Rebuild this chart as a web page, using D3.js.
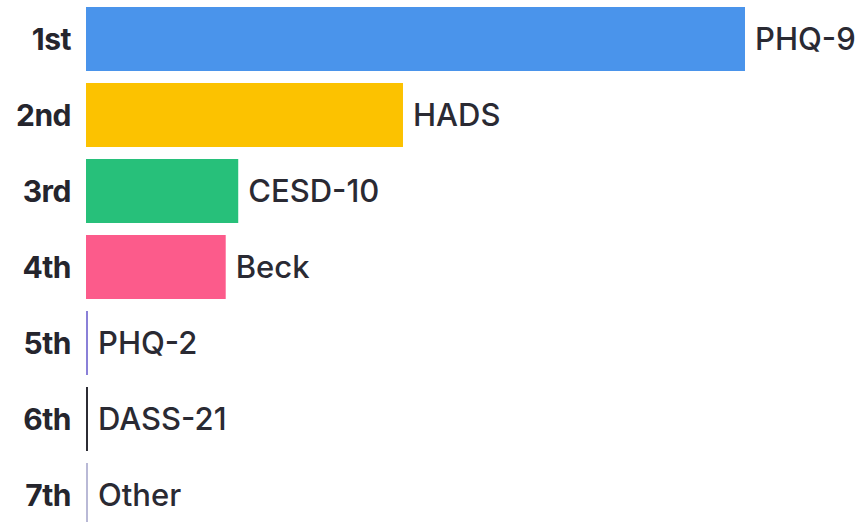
<!DOCTYPE html>
<html>
<head>
<style>
body { margin: 0; background: #fff; }
.rank { font-family: Inter, "Noto Sans", sans-serif; font-weight: 700; font-size: 30px; fill: #25252d; letter-spacing: -0.5px; }
.lbl { font-family: Inter, "Noto Sans", sans-serif; font-weight: 500; font-size: 31px; fill: #2a2a33; }
</style>
<title>ranking</title>
<script src="https://cdn.jsdelivr.net/npm/d3@7"></script>
</head>
<body>
<svg width="864" height="522"></svg>
<script>

var ranks = ["1st", "2nd", "3rd", "4th", "5th", "6th", "7th"];
var names = ["PHQ-9", "HADS", "CESD-10", "Beck", "PHQ-2", "DASS-21", "Other"];
var values = [100, 48.1, 23.1, 21.2, 0.3, 0.3, 0.3];
var colors = ["#4a94eb", "#fcc200", "#27c07a", "#fc5b8b", "#8a80d8", "#2c2c34", "#b9b9d6"];

var svg = d3.select("svg"),
    margin = {left: 86, top: 7};

var data = ranks.map(function(r, i) {
  return {rank: r, name: names[i], value: values[i], color: colors[i]};
});

var x = d3.scaleLinear().domain([0, d3.max(values)]).range([margin.left, 745]);
var y = d3.scaleBand().domain(ranks).range([margin.top, 527]).paddingInner(0.158).paddingOuter(0);

svg.selectAll(".bar")
  .data(data)
  .enter().append("rect")
    .attr("class", "bar")
    .attr("x", x(0))
    .attr("y", function(d) { return y(d.rank); })
    .attr("width", function(d) { return Math.max(2, x(d.value) - x(0)); })
    .attr("height", y.bandwidth())
    .attr("fill", function(d) { return d.color; });

svg.selectAll(".rank")
  .data(data)
  .enter().append("text")
    .attr("class", "rank")
    .attr("x", 71)
    .attr("y", function(d) { return y(d.rank) + y.bandwidth() / 2; })
    .attr("dy", "0.36em")
    .attr("text-anchor", "end")
    .text(function(d) { return d.rank; });

svg.selectAll(".lbl")
  .data(data)
  .enter().append("text")
    .attr("class", "lbl")
    .attr("x", function(d) { return Math.max(x(0) + 2, x(d.value)) + 10; })
    .attr("y", function(d) { return y(d.rank) + y.bandwidth() / 2; })
    .attr("dy", "0.36em")
    .text(function(d) { return d.name; });

</script>
</body>
</html>
